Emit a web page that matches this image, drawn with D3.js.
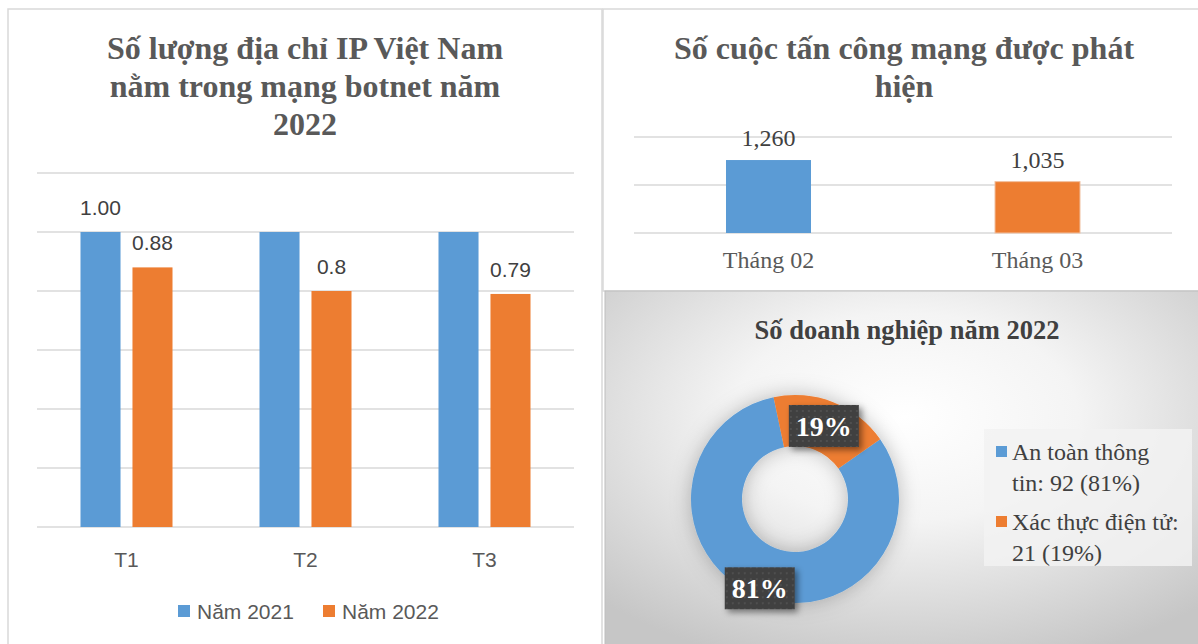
<!DOCTYPE html>
<html>
<head>
<meta charset="utf-8">
<script src="https://cdn.jsdelivr.net/npm/d3@7"></script>
<style>
  body { margin: 0; background: #fff; }
  svg { display: block; }
</style>
</head>
<body>
<svg width="1198" height="644"></svg>
<script>
// --- data ---
var ipCategories = ["T1", "T2", "T3"];
var ipSeries = ["Năm 2021", "Năm 2022"];
var ip2021 = [1.00, 1.00, 1.00];
var ip2022 = [0.88, 0.8, 0.79];
var ip2021Labels = ["1.00", null, null];
var ip2022Labels = ["0.88", "0.8", "0.79"];
var ipTicks = [0, 0.2, 0.4, 0.6, 0.8, 1.0, 1.2];

var attackMonths = ["Tháng 02", "Tháng 03"];
var attackCounts = [1260, 1035];
var attackTicks = [500, 1000, 1500];

var bizNames = ["An toàn thông tin", "Xác thực điện tử"];
var bizCounts = [92, 21];

var blue = "#5b9bd5", orange = "#ed7d31";
var serif = "'Liberation Serif', 'Times New Roman', serif";
var sans = "'Liberation Sans', Arial, sans-serif";

var svg = d3.select("svg");
var defs = svg.append("defs");

// gradient for the donut panel
var grad = defs.append("radialGradient").attr("id", "bg")
  .attr("cx", "50%").attr("cy", "35%").attr("r", "72%");
grad.append("stop").attr("offset", "0%").attr("stop-color", "#ffffff");
grad.append("stop").attr("offset", "40%").attr("stop-color", "#f4f4f4");
grad.append("stop").attr("offset", "100%").attr("stop-color", "#c6c6c6");

var dots = defs.append("pattern").attr("id", "dots")
  .attr("width", 6).attr("height", 6).attr("patternUnits", "userSpaceOnUse");
dots.append("rect").attr("width", 6).attr("height", 6).attr("fill", "#3f3f3f");
dots.append("circle").attr("cx", 3).attr("cy", 3).attr("r", 1).attr("fill", "#555");

var sh = defs.append("filter").attr("id", "shadow")
  .attr("x", "-30%").attr("y", "-30%").attr("width", "160%").attr("height", "160%");
sh.append("feDropShadow").attr("dx", 3).attr("dy", 3).attr("stdDeviation", 3)
  .attr("flood-color", "#000").attr("flood-opacity", 0.45);

var glow = defs.append("filter").attr("id", "glow")
  .attr("x", "-40%").attr("y", "-40%").attr("width", "180%").attr("height", "180%");
glow.append("feDropShadow").attr("dx", 0).attr("dy", 0).attr("stdDeviation", 10)
  .attr("flood-color", "#000").attr("flood-opacity", 0.25);

// --- panels ---
svg.append("rect").attr("x", 8).attr("y", 9).attr("width", 594).attr("height", 650)
  .attr("fill", "#fff").attr("stroke", "#d9d9d9").attr("stroke-width", 1.5);
svg.append("rect").attr("x", 603).attr("y", 9).attr("width", 600).attr("height", 282)
  .attr("fill", "#fff").attr("stroke", "#d9d9d9").attr("stroke-width", 1.5);
svg.append("rect").attr("x", 605).attr("y", 291).attr("width", 600).attr("height", 360)
  .attr("fill", "url(#bg)").attr("stroke", "#bdbdbd").attr("stroke-width", 1);

// ================= left chart =================
var g1 = svg.append("g");
var x0 = d3.scaleBand().domain(ipCategories).range([37, 574])
  .paddingInner(0.486).paddingOuter(0.243);
var x1 = d3.scaleBand().domain(ipSeries).range([0, x0.bandwidth()]).paddingInner(0.23);
var y1 = d3.scaleLinear().domain([0, 1.2]).range([527, 173]);

g1.selectAll("line.grid").data(ipTicks).join("line")
  .attr("x1", 37).attr("x2", 574)
  .attr("y1", function(d) { return y1(d); }).attr("y2", function(d) { return y1(d); })
  .attr("stroke", "#d9d9d9").attr("stroke-width", 1.3);

var ipRows = ipCategories.map(function(c, i) {
  return { cat: c, vals: [
    { s: ipSeries[0], v: ip2021[i], lab: ip2021Labels[i], col: blue },
    { s: ipSeries[1], v: ip2022[i], lab: ip2022Labels[i], col: orange }
  ]};
});
var groups = g1.selectAll("g.cat").data(ipRows).join("g")
  .attr("transform", function(d) { return "translate(" + x0(d.cat) + ",0)"; });
groups.selectAll("rect").data(function(d) { return d.vals; }).join("rect")
  .attr("x", function(d) { return x1(d.s); })
  .attr("width", x1.bandwidth())
  .attr("y", function(d) { return y1(d.v); })
  .attr("height", function(d) { return y1(0) - y1(d.v); })
  .attr("fill", function(d) { return d.col; });
groups.selectAll("text").data(function(d) { return d.vals.filter(function(v) { return v.lab; }); })
  .join("text")
  .attr("x", function(d) { return x1(d.s) + x1.bandwidth() / 2; })
  .attr("y", function(d) { return y1(d.v) - 17; })
  .attr("text-anchor", "middle")
  .style("font-family", sans).style("font-size", "21px").attr("fill", "#404040")
  .text(function(d) { return d.lab; });

var ax1 = g1.append("g").attr("transform", "translate(0,527)")
  .call(d3.axisBottom(x0).tickSize(0).tickPadding(25));
ax1.select(".domain").remove();
ax1.selectAll("text").style("font-family", sans).style("font-size", "21px").attr("fill", "#595959");

g1.append("text").attr("x", 305).attr("text-anchor", "middle")
  .style("font-family", serif).style("font-size", "32px").style("font-weight", "bold")
  .attr("fill", "#595959")
  .selectAll("tspan").data(["Số lượng địa chỉ IP Việt Nam", "nằm trong mạng botnet năm", "2022"])
  .join("tspan").attr("x", 305).attr("y", function(d, i) { return 59 + i * 38; })
  .text(function(d) { return d; });

// legend
var leg1 = g1.append("g").attr("transform", "translate(178,611)");
var legItems = leg1.selectAll("g").data(ipSeries).join("g")
  .attr("transform", function(d, i) { return "translate(" + (i * 145) + ",0)"; });
legItems.append("rect").attr("x", 0).attr("y", -6).attr("width", 12).attr("height", 12)
  .attr("fill", function(d, i) { return i ? orange : blue; });
legItems.append("text").attr("x", 19).attr("y", 7.5)
  .style("font-family", sans).style("font-size", "21px").attr("fill", "#595959")
  .text(function(d) { return d; });

// ================= right top chart =================
var g2 = svg.append("g");
var xa = d3.scaleBand().domain(attackMonths).range([634, 1172])
  .paddingInner(0.684).paddingOuter(0.342);
var ya = d3.scaleLinear().domain([500, 1500]).range([233, 137]);

g2.selectAll("line").data(attackTicks).join("line")
  .attr("x1", 634).attr("x2", 1172)
  .attr("y1", function(d) { return ya(d); }).attr("y2", function(d) { return ya(d); })
  .attr("stroke", "#d9d9d9").attr("stroke-width", 1.3);

g2.selectAll("rect").data(attackCounts).join("rect")
  .attr("x", function(d, i) { return xa(attackMonths[i]); })
  .attr("width", xa.bandwidth())
  .attr("y", function(d) { return ya(d); })
  .attr("height", function(d) { return ya(500) - ya(d); })
  .attr("fill", function(d, i) { return i ? orange : blue; })
  .attr("stroke", function(d, i) { return i ? "#f0c0a0" : "none"; });

g2.selectAll("text.val").data(attackCounts).join("text")
  .attr("class", "val")
  .attr("x", function(d, i) { return xa(attackMonths[i]) + xa.bandwidth() / 2; })
  .attr("y", function(d) { return ya(d) - 14; })
  .attr("text-anchor", "middle")
  .style("font-family", serif).style("font-size", "24px").attr("fill", "#404040")
  .text(function(d) { return d3.format(",")(d); });

var ax2 = g2.append("g").attr("transform", "translate(0,233)")
  .call(d3.axisBottom(xa).tickSize(0).tickPadding(18));
ax2.select(".domain").remove();
ax2.selectAll("text").style("font-family", serif).style("font-size", "24px").attr("fill", "#595959");

g2.append("text").attr("text-anchor", "middle")
  .style("font-family", serif).style("font-size", "32px").style("font-weight", "bold")
  .attr("fill", "#595959")
  .selectAll("tspan").data(["Số cuộc tấn công mạng được phát", "hiện"])
  .join("tspan").attr("x", 904).attr("y", function(d, i) { return 59 + i * 38; })
  .text(function(d) { return d; });

// ================= donut =================
var g3 = svg.append("g");
g3.append("text").attr("x", 907).attr("y", 339).attr("text-anchor", "middle")
  .style("font-family", serif).style("font-size", "26.5px").style("font-weight", "bold")
  .attr("fill", "#404040").text("Số doanh nghiệp năm 2022");

var total = d3.sum(bizCounts);
var start = 55 * Math.PI / 180;
var pie = d3.pie().sort(null).startAngle(start).endAngle(start + 2 * Math.PI);
var arcs = pie(bizCounts);
var arc = d3.arc().innerRadius(53).outerRadius(104);
var cx = 795, cy = 499;
var donut = g3.append("g").attr("transform", "translate(" + cx + "," + cy + ")");
donut.append("g").attr("filter", "url(#glow)")
  .selectAll("path").data(arcs).join("path")
  .attr("d", arc)
  .attr("fill", function(d, i) { return i ? orange : blue; });

var labelArcs = [d3.arc().innerRadius(96).outerRadius(96), arc];
var labs = donut.selectAll("g.lab").data(arcs).join("g").attr("class", "lab")
  .attr("transform", function(d, i) {
    var c = labelArcs[i].centroid(d);
    return "translate(" + c[0] + "," + c[1] + ")";
  });
labs.append("rect").attr("x", -35).attr("y", -21).attr("width", 70).attr("height", 42)
  .attr("fill", "url(#dots)").attr("filter", "url(#shadow)");
labs.append("text").attr("text-anchor", "middle").attr("y", 10)
  .style("font-family", serif).style("font-size", "28px").style("font-weight", "bold")
  .attr("fill", "#fff")
  .text(function(d) { return Math.round(d.value / total * 100) + "%"; });

// legend box
var lg = g3.append("g").attr("transform", "translate(984,429)");
lg.append("rect").attr("width", 208).attr("height", 137).attr("fill", "#f2f2f2").attr("opacity", 0.85);
var legLines = bizNames.map(function(n, i) {
  var pct = Math.round(bizCounts[i] / total * 100);
  return i === 0
    ? ["An toàn thông", "tin: " + bizCounts[i] + " (" + pct + "%)"]
    : ["Xác thực điện tử:", bizCounts[i] + " (" + pct + "%)"];
});
var li = lg.selectAll("g").data(legLines).join("g")
  .attr("transform", function(d, i) { return "translate(0," + (i * 70) + ")"; });
li.append("rect").attr("x", 12).attr("y", 17).attr("width", 11).attr("height", 11)
  .attr("fill", function(d, i) { return i ? orange : blue; });
li.append("text").style("font-family", serif).style("font-size", "24px").attr("fill", "#404040")
  .selectAll("tspan").data(function(d) { return d; }).join("tspan")
  .attr("x", 28).attr("y", function(d, i) { return 31 + i * 31; })
  .text(function(d) { return d; });
</script>
</body>
</html>
